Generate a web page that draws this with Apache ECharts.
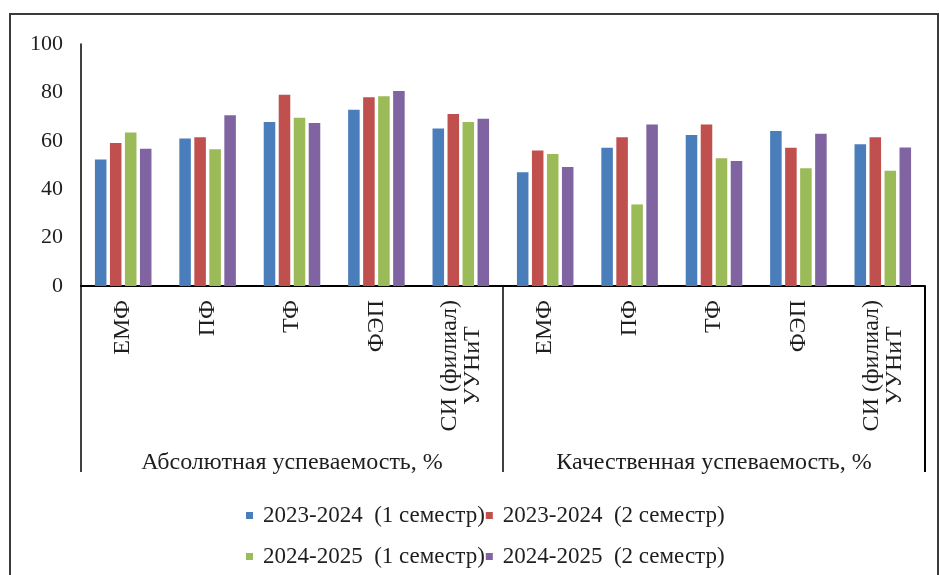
<!DOCTYPE html>
<html>
<head>
<meta charset="utf-8">
<script src="https://cdn.jsdelivr.net/npm/echarts@6/dist/echarts.min.js"></script>
<style>
html,body{margin:0;padding:0;background:#fff;}
#chart{width:940px;height:575px;}
</style>
</head>
<body>
<div id="chart"></div>
<script>
var categories = ['ЕМФ','ПФ','ТФ','ФЭП','СИ (филиал)\nУУНиТ','ЕМФ','ПФ','ТФ','ФЭП','СИ (филиал)\nУУНиТ'];
var groups = ['Абсолютная успеваемость, %','Качественная успеваемость, %'];
var seriesNames = ['2023-2024  (1 семестр)','2023-2024  (2 семестр)','2024-2025  (1 семестр)','2024-2025  (2 семестр)'];
var s1 = [52.3, 60.9, 67.8, 72.8, 65.1, 47.0, 57.1, 62.4, 64.0, 58.6];
var s2 = [59.1, 61.5, 79.0, 78.0, 71.1, 56.0, 61.5, 66.7, 57.1, 61.5];
var s3 = [63.4, 56.5, 69.5, 78.4, 67.8, 54.5, 33.7, 52.8, 48.7, 47.6];
var s4 = [56.7, 70.6, 67.4, 80.6, 69.1, 49.2, 66.7, 51.7, 62.9, 57.2];
var yTicks = [0, 20, 40, 60, 80, 100];
var colors = ['#4A7EBB','#C0504D','#9BBB59','#8064A2'];

var font = "'Liberation Serif', 'Times New Roman', serif";
var txt = '#1e1e1e';
var gridRight = 15;
var chart = echarts.init(document.getElementById('chart'));
var data = [s1, s2, s3, s4];
var border = {
  type: 'rect', shape: {x: 10, y: 14, width: 928, height: 600},
  style: {fill: 'none', stroke: '#3a3a3a', lineWidth: 2}, silent: true, z: -1
};
var option = {
  animation: false,
  color: colors,
  graphic: [border],
  legend: [{
    data: seriesNames.slice(0, 2), left: 241, top: 499, itemWidth: 7, itemHeight: 7, itemGap: 1,
    icon: 'rect', textStyle: {fontFamily: font, fontSize: 23, color: txt, padding: [0, 0, 0, 5]}
  }, {
    data: seriesNames.slice(2, 4), left: 241, top: 540, itemWidth: 7, itemHeight: 7, itemGap: 1,
    icon: 'rect', textStyle: {fontFamily: font, fontSize: 23, color: txt, padding: [0, 0, 0, 5]}
  }],
  grid: [
    {left: 81, right: gridRight, top: 44, bottom: 289, containLabel: false, outerBoundsMode: 'none'},
    {left: 81, right: gridRight, top: 286, height: 186, containLabel: false, outerBoundsMode: 'none'}
  ],
  xAxis: [{
    type: 'category', data: categories, position: 'bottom', gridIndex: 0,
    axisLine: {show: true, lineStyle: {color: '#000', width: 2}},
    axisTick: {show: false},
    axisLabel: {
      rotate: 90, margin: 14, fontFamily: font, fontSize: 24, color: txt, interval: 0,
      formatter: function (v) {
        if (v.indexOf('\n') >= 0) {
          return v.split('\n').map(function (p) { return '{c|' + p + '}'; }).join('\n');
        }
        return v;
      },
      rich: {c: {align: 'center', fontFamily: font, fontSize: 24, color: txt, lineHeight: 23}}
    }
  }, {
    type: 'category', data: groups, position: 'bottom', gridIndex: 1,
    axisLine: {show: false},
    axisTick: {show: false},
    splitLine: {show: false},
    axisLabel: {inside: true, margin: -3, fontFamily: font, fontSize: 24, color: txt, interval: 0}
  }, {
    type: 'value', min: 0, max: 2, interval: 1, position: 'top', gridIndex: 1,
    axisLine: {show: false},
    axisTick: {show: false},
    axisLabel: {show: false},
    splitLine: {show: true, showMinLine: true, showMaxLine: true, lineStyle: {color: '#000', width: 1.5}}
  }],
  yAxis: [{
    type: 'value', min: 0, max: 100, interval: 20, gridIndex: 0,
    axisLine: {show: true, lineStyle: {color: '#000', width: 1.5}},
    axisTick: {show: false},
    splitLine: {show: false},
    axisLabel: {margin: 18, fontFamily: font, fontSize: 22, color: txt,
      formatter: function (v) { return yTicks.indexOf(v) >= 0 ? String(v) : ''; }}
  }, {
    type: 'value', min: 0, max: 1, gridIndex: 1, show: false
  }],
  series: seriesNames.map(function (n, i) {
    return {name: n, type: 'bar', data: data[i], barGap: '30%', barCategoryGap: '33%', xAxisIndex: 0, yAxisIndex: 0};
  })
};
chart.setOption(option);

// closing separator at the end of the second group (right edge of the group grid)
var gridRect = chart.getModel().getComponent('grid', 1).coordinateSystem.getRect();
var xEnd = gridRect.x + gridRect.width;
chart.setOption({
  graphic: [border, {
    type: 'rect', shape: {x: xEnd - 1, y: gridRect.y, width: 2, height: gridRect.height},
    style: {fill: '#000'}, silent: true, z: 100
  }]
});
</script>
</body>
</html>
